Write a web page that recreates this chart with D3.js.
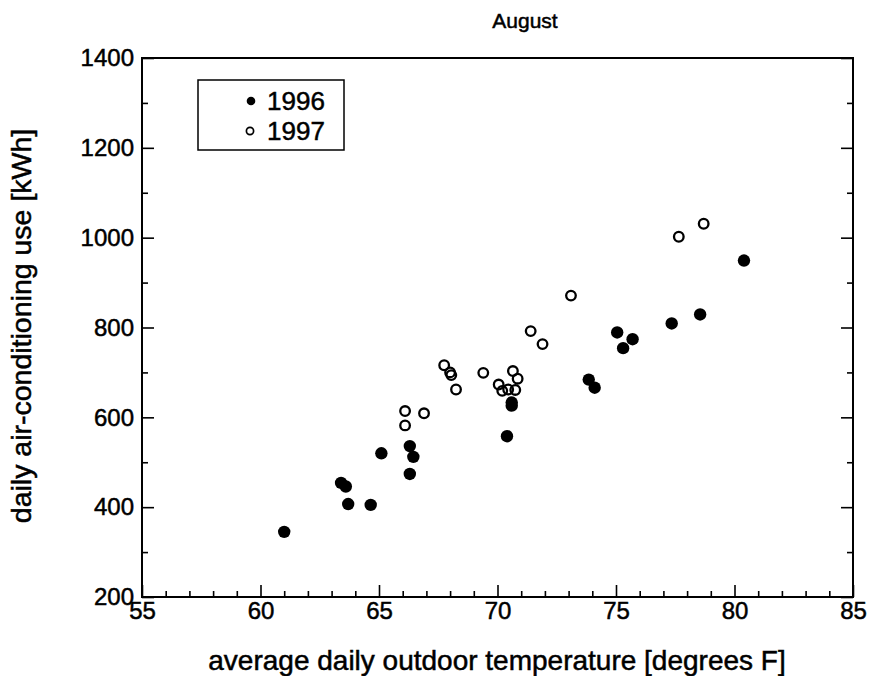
<!DOCTYPE html>
<html>
<head>
<meta charset="utf-8">
<script src="https://cdn.jsdelivr.net/npm/d3@7"></script>
<style>
  body { margin: 0; background: #fff; }
  svg { display: block; font-family: "Liberation Sans", Arial, Helvetica, sans-serif; }
  svg text { stroke: #000; stroke-width: 0.5px; }
</style>
</head>
<body>
<svg id="chart" width="869" height="676"></svg>
<script>
// Daily outdoor temperature (°F) and air-conditioning energy (kWh), August
const temp1996 = [61.0, 63.4, 63.6, 63.7, 64.65, 65.1, 66.3, 66.45, 66.3, 70.4, 70.6, 70.6,
                  73.85, 74.1, 75.05, 75.3, 75.7, 77.35, 78.55, 80.4];
const kwh1996  = [345, 454, 446, 407, 405, 520, 536, 512, 474, 558, 633, 626,
                  684, 666, 789, 754, 774, 809, 829, 949];

const temp1997 = [66.1, 66.1, 66.9, 67.75, 68.0, 68.05, 68.25, 69.4, 70.05, 70.2, 70.45,
                  70.75, 70.65, 70.85, 71.4, 71.9, 73.1, 77.65, 78.7];
const kwh1997  = [614, 582, 609, 716, 700, 694, 662, 699, 673, 659, 662,
                  661, 703, 686, 792, 763, 871, 1002, 1031];

const xTicksMajor = [55, 60, 65, 70, 75, 80, 85];
const yTicksMajor = [200, 400, 600, 800, 1000, 1200, 1400];

const svg = d3.select("#chart");
const plotLeft = 142, plotRight = 853, plotTop = 58, plotBottom = 597;

const x = d3.scaleLinear().domain([55, 85]).range([plotLeft, plotRight]);
const y = d3.scaleLinear().domain([200, 1400]).range([plotBottom, plotTop]);

const minorX = d3.range(56, 85, 1).filter(v => v % 5 !== 0);
const minorY = d3.range(300, 1400, 200);

function styleAxis(g) {
  g.select(".domain").remove();
  g.selectAll(".tick line").attr("stroke", "#000").attr("stroke-width", 1.6);
  g.selectAll(".tick text").attr("fill", "#000").attr("font-size", 24);
}

// bottom axis: labelled majors + minor ticks, pointing inward
svg.append("g").attr("transform", `translate(0,${plotBottom})`)
  .call(d3.axisBottom(x).tickValues(xTicksMajor).tickSize(-12).tickPadding(5).tickFormat(d3.format("d")))
  .call(styleAxis);
svg.append("g").attr("transform", `translate(0,${plotBottom})`)
  .call(d3.axisBottom(x).tickValues(minorX).tickSize(-6).tickFormat(""))
  .call(styleAxis);

// left axis
svg.append("g").attr("transform", `translate(${plotLeft},0)`)
  .call(d3.axisLeft(y).tickValues(yTicksMajor).tickSize(-12).tickPadding(8).tickFormat(d3.format("d")))
  .call(styleAxis);
svg.append("g").attr("transform", `translate(${plotLeft},0)`)
  .call(d3.axisLeft(y).tickValues(minorY).tickSize(-6).tickFormat(""))
  .call(styleAxis);

// right axis: mirrored ticks, no labels
svg.append("g").attr("transform", `translate(${plotRight},0)`)
  .call(d3.axisRight(y).tickValues(yTicksMajor).tickSize(-12).tickFormat(""))
  .call(styleAxis);
svg.append("g").attr("transform", `translate(${plotRight},0)`)
  .call(d3.axisRight(y).tickValues(minorY).tickSize(-6).tickFormat(""))
  .call(styleAxis);

// plot frame
svg.append("rect")
  .attr("x", plotLeft).attr("y", plotTop)
  .attr("width", plotRight - plotLeft).attr("height", plotBottom - plotTop)
  .attr("fill", "none").attr("stroke", "#000").attr("stroke-width", 2);

// 1997: open circles
svg.append("g").selectAll("circle")
  .data(temp1997.map((t, i) => [t, kwh1997[i]]))
  .join("circle")
  .attr("cx", d => x(d[0])).attr("cy", d => y(d[1]))
  .attr("r", 4.8)
  .attr("fill", "none").attr("stroke", "#000").attr("stroke-width", 2.3);

// 1996: filled circles
svg.append("g").selectAll("circle")
  .data(temp1996.map((t, i) => [t, kwh1996[i]]))
  .join("circle")
  .attr("cx", d => x(d[0])).attr("cy", d => y(d[1]))
  .attr("r", 6.2)
  .attr("fill", "#000");

// title and axis labels
svg.append("text").attr("x", 525).attr("y", 28)
  .attr("text-anchor", "middle").attr("font-size", 21).text("August");

svg.append("text").attr("x", 497).attr("y", 670)
  .attr("text-anchor", "middle").attr("font-size", 28)
  .text("average daily outdoor temperature [degrees F]");

svg.append("text")
  .attr("transform", `translate(31,326) rotate(-90)`)
  .attr("text-anchor", "middle").attr("font-size", 28.5)
  .text("daily air-conditioning use [kWh]");

// legend
const legend = svg.append("g");
legend.append("rect").attr("x", 198).attr("y", 80).attr("width", 146).attr("height", 70)
  .attr("fill", "#fff").attr("stroke", "#000").attr("stroke-width", 1.5);
legend.append("circle").attr("cx", 251).attr("cy", 101).attr("r", 4.3).attr("fill", "#000");
legend.append("circle").attr("cx", 250).attr("cy", 131).attr("r", 3.6)
  .attr("fill", "none").attr("stroke", "#000").attr("stroke-width", 1.7);
legend.append("text").attr("x", 267).attr("y", 110).attr("font-size", 26).text("1996");
legend.append("text").attr("x", 267).attr("y", 140).attr("font-size", 26).text("1997");
</script>
</body>
</html>
